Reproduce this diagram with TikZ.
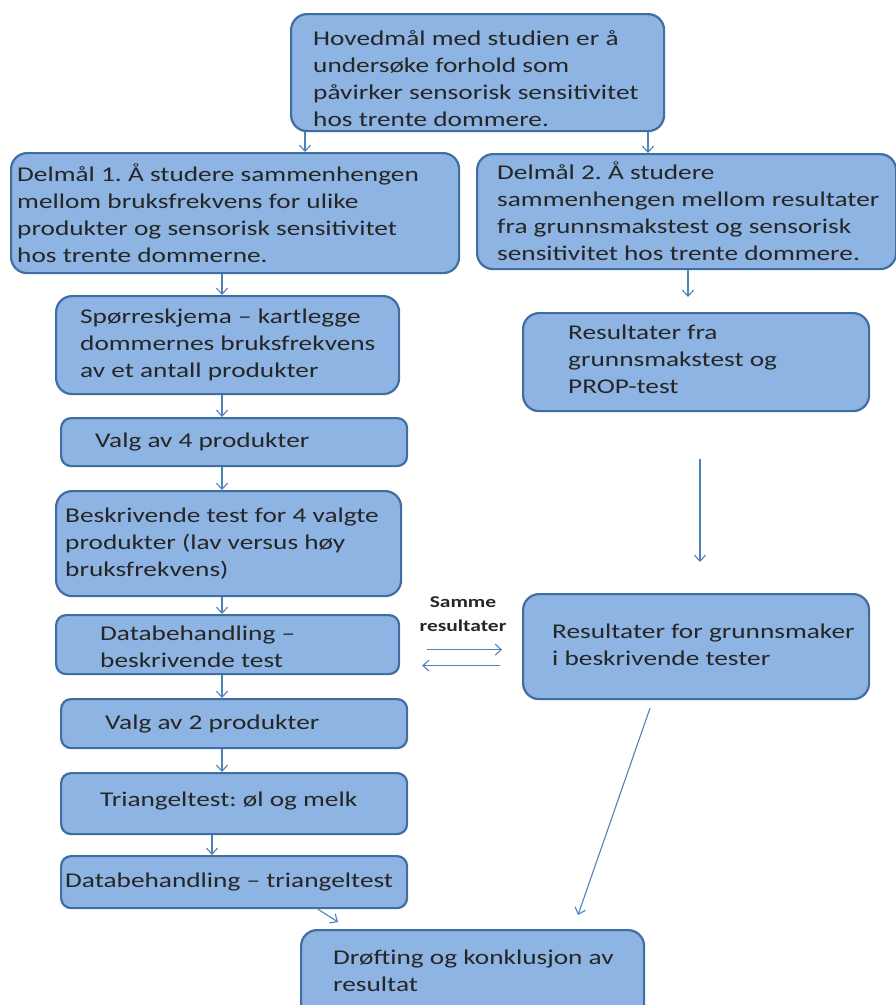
\documentclass[tikz,border=0pt]{standalone}
\usepackage{fontspec}
\setmainfont{Carlito}[FakeStretch=1.3]
\usetikzlibrary{arrows.meta,calc}

\definecolor{boxfill}{RGB}{141,180,226}
\definecolor{boxline}{RGB}{65,110,160}
\definecolor{arrline}{RGB}{79,129,189}

\tikzset{
  blk/.style={draw=boxline, line width=2.2pt, fill=boxfill, rounded corners=16pt,
    anchor=north west, inner sep=0pt},
  txt/.style={anchor=west, align=left, inner sep=0pt, text=black!85,
    font=\fontsize{21}{27}\selectfont},
  arr/.style={draw=arrline, line width=1.1pt, -{Straight Barb[length=6pt,width=11pt]}},
}

\begin{document}
\frenchspacing
\begin{tikzpicture}[x=1pt,y=-1pt]

\useasboundingbox (0,0) rectangle (896,1005);

% main goal
\node[blk, minimum width=373, minimum height=117] (mal) at (290,13) {};
\node[txt] (mal-t) at ($(mal.west)+(23,6)$)
  {Hovedmål med studien er å\\ undersøke forhold som\\ påvirker sensorisk sensitivitet\\ hos trente dommere.};

% sub goals
\node[blk, minimum width=448, minimum height=120] (del1) at (10,152) {};
\node[txt] (del1-t) at ($(del1.west)+(7,0)$)
  {Delmål 1. Å studere sammenhengen\\ mellom bruksfrekvens for ulike\\ produkter og sensorisk sensitivitet\\ hos trente dommerne.};
\node[blk, minimum width=419, minimum height=115] (del2) at (476,153) {};
\node[txt] (del2-t) at ($(del2.west)+(21,0)$)
  {Delmål 2. Å studere\\ sammenhengen mellom resultater\\ fra grunnsmakstest og sensorisk\\ sensitivitet hos trente dommere.};

% left column
\node[blk, minimum width=343, minimum height=98] (spor) at (55,295) {};
\node[txt] (spor-t) at ($(spor.west)+(25,0)$)
  {Spørreskjema -- kartlegge\\ dommernes bruksfrekvens\\ av et antall produkter};
\node[blk, minimum width=346, minimum height=48, rounded corners=10pt] (valgfire) at (60,417) {};
\node[txt] (valgfire-t) at ($(valgfire.west)+(35,0)$) {Valg av 4 produkter};
\node[blk, minimum width=345, minimum height=105] (besk) at (55,490) {};
\node[txt] (besk-t) at ($(besk.west)+(10,0)$)
  {Beskrivende test for 4 valgte\\ produkter (lav versus høy\\ bruksfrekvens)};
\node[blk, minimum width=343, minimum height=59, rounded corners=10pt] (dbeh) at (55,614) {};
\node[txt] (dbeh-t) at ($(dbeh.west)+(45,2)$) {Databehandling --\\ beskrivende test};
\node[blk, minimum width=346, minimum height=49, rounded corners=10pt] (valgto) at (60,698) {};
\node[txt] (valgto-t) at ($(valgto.west)+(45,0)$) {Valg av 2 produkter};
\node[blk, minimum width=346, minimum height=61, rounded corners=10pt] (tri) at (60,772) {};
\node[txt] (tri-t) at ($(tri.west)+(40,-3)$) {Triangeltest: øl og melk};
\node[blk, minimum width=346, minimum height=52, rounded corners=10pt] (dtri) at (60,855) {};
\node[txt] (dtri-t) at ($(dtri.west)+(5,0)$) {Databehandling -- triangeltest};

% right column
\node[blk, minimum width=346, minimum height=98] (resfra) at (522,312) {};
\node[txt] (resfra-t) at ($(resfra.west)+(46,-3)$) {Resultater fra\\ grunnsmakstest og\\ PROP-test};
\node[blk, minimum width=346, minimum height=105] (resfor) at (522,593) {};
\node[txt] (resfor-t) at ($(resfor.west)+(30,-2)$) {Resultater for grunnsmaker\\ i beskrivende tester};

% conclusion
\node[blk, minimum width=343, minimum height=90] (drof) at (300,929) {};
\node[txt] (drof-t) at ($(drof.west)+(33,-4)$) {Drøfting og konklusjon av\\ resultat};

\node[font=\fontsize{16.5}{24}\selectfont\bfseries, align=center, text=black!85] (samme) at (463,614)
  {Samme\\ resultater};

% arrows
\draw[arr] (mal.south -| 305,0) -- (del1.north -| 305,0);
\draw[arr] (mal.south -| 648,0) -- (del2.north -| 648,0);
\draw[arr] (del1.south -| 222,0) -- (spor.north -| 222,0);
\draw[arr] (del2.south -| 688,0) -- ([yshift=15]resfra.north -| 688,0);
\draw[arr] (spor.south -| 222,0) -- (valgfire.north -| 222,0);
\draw[arr] (valgfire.south -| 222,0) -- (besk.north -| 222,0);
\draw[arr] (besk.south -| 222,0) -- (dbeh.north -| 222,0);
\draw[arr] (dbeh.south -| 222,0) -- (valgto.north -| 222,0);
\draw[arr] (valgto.south -| 222,0) -- (tri.north -| 222,0);
\draw[arr] (tri.south -| 212,0) -- (dtri.north -| 212,0);
\draw[arr] ([yshift=-47]resfra.south -| 700,0) -- ([yshift=31]resfor.north -| 700,0);
\draw[arr] ($(resfor.south west)+(128,8)$) -- ($(drof.north west)+(278,-14)$);
\draw[arr] ($(dtri.south west)+(258,0)$) -- ($(drof.north west)+(38,-7)$);

% same results
\draw[arr] ($(dbeh.east)+(27,5)$) -- ($(resfor.west)+(-20,3)$);
\draw[arr] ($(resfor.west)+(-22,19)$) -- ($(dbeh.east)+(22,21)$);

\end{tikzpicture}
\end{document}
